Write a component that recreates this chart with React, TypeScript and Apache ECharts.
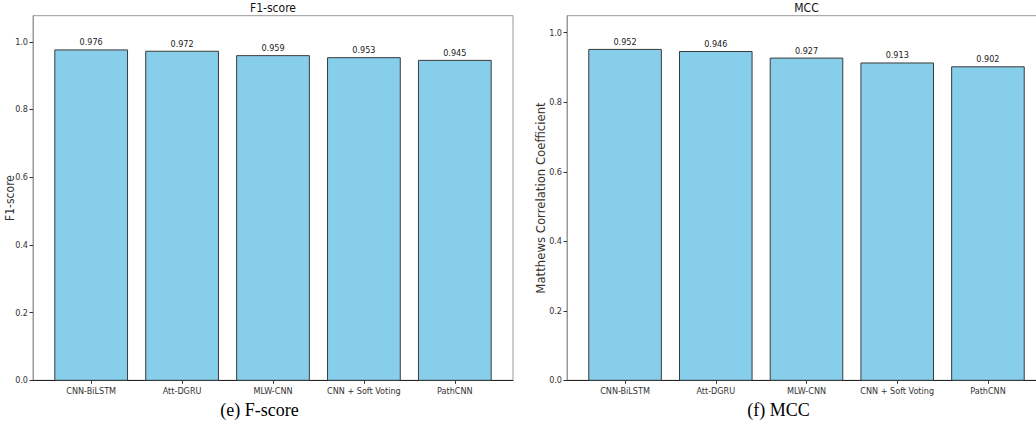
import React, { useEffect, useRef } from "react";
import * as echarts from "echarts";

const categories = ["CNN-BiLSTM", "Att-DGRU", "MLW-CNN", "CNN + Soft Voting", "PathCNN"];
const f1Values = [0.976, 0.972, 0.959, 0.953, 0.945];
const mccValues = [0.952, 0.946, 0.927, 0.913, 0.902];
const yTicks = [0, 0.2, 0.4, 0.6, 0.8, 1.0];
const xTicks = [0, 1, 2, 3, 4];

const SANS = "'DejaVu Sans Condensed', 'DejaVu Sans', sans-serif";
const SERIF = "'Liberation Serif', 'DejaVu Serif', serif";

function barSeries(values: number[], idx: number) {
  return {
    type: "custom",
    xAxisIndex: idx,
    yAxisIndex: idx,
    encode: { x: 0, y: 1 },
    data: values.map((v, i) => [i, v]),
    renderItem: (params: any, api: any) => {
      const i = api.value(0);
      const v = api.value(1);
      const top = api.coord([i, v]);
      const base = api.coord([i, 0]);
      const w = api.size([0.8, 0])[0];
      return {
        type: "group",
        children: [
          {
            type: "rect",
            shape: { x: top[0] - w / 2, y: top[1], width: w, height: base[1] - top[1] },
            style: { fill: "#87CEEB", stroke: "#3a3a3a", lineWidth: 1 },
          },
          {
            type: "text",
            style: {
              text: v.toFixed(3),
              x: top[0],
              y: top[1] - 3,
              align: "center",
              verticalAlign: "bottom",
              fill: "#222",
              font: `9px ${SANS}`,
            },
          },
        ],
      };
    },
  };
}

export default function App() {
  const ref = useRef<HTMLDivElement>(null);
  useEffect(() => {
    document.body.style.margin = "0";
    const chart = echarts.init(ref.current!, null, { renderer: "svg" });
    const gridTop = 15.7;
    const gridH = 364.6;
    const xAxisBase = (idx: number) => ({
      type: "value",
      gridIndex: idx,
      min: -0.64,
      max: 4.64,
      axisLine: { show: true, onZero: false, lineStyle: { color: "#222", width: 1 } },
      axisTick: { show: true, length: 3.5, lineStyle: { color: "#333" }, customValues: xTicks },
      axisLabel: {
        show: true,
        customValues: xTicks,
        formatter: (v: number) => categories[Math.round(v)] ?? "",
        color: "#333",
        fontFamily: SANS,
        fontSize: 9,
        margin: 6,
      },
      splitLine: { show: false },
    });
    const yAxisBase = (idx: number, max: number, name: string, gap: number, size: number) => ({
      type: "value",
      gridIndex: idx,
      min: 0,
      max,
      name,
      nameLocation: "middle",
      nameGap: gap,
      nameMoveOverlap: false,
      nameTextStyle: { color: "#333", fontFamily: SANS, fontSize: size },
      axisLine: { show: true, onZero: false, lineStyle: { color: "#999", width: 1 } },
      axisTick: { show: true, length: 3.5, lineStyle: { color: "#333" }, customValues: yTicks },
      axisLabel: {
        show: true,
        customValues: yTicks,
        formatter: (v: number) => v.toFixed(1),
        color: "#333",
        fontFamily: SANS,
        fontSize: 9,
        margin: 5,
      },
      splitLine: { show: false },
    });
    chart.setOption({
      animation: false,
      backgroundColor: "#fff",
      grid: [
        { left: 33, top: gridTop, width: 480, height: gridH, outerBoundsMode: "none", containLabel: false, show: true, borderColor: "#999", borderWidth: 1, backgroundColor: "transparent" },
        { left: 567, top: gridTop, width: 479, height: gridH, outerBoundsMode: "none", containLabel: false, show: true, borderColor: "#999", borderWidth: 1, backgroundColor: "transparent" },
      ],
      xAxis: [xAxisBase(0), xAxisBase(1)],
      yAxis: [
        yAxisBase(0, 1.077, "F1-score", 17, 12),
        yAxisBase(1, 1.049, "Matthews Correlation Coefficient", 20, 13),
      ],
      series: [barSeries(f1Values, 0), barSeries(mccValues, 1)],
      graphic: [
        { type: "text", x: 273, y: 8, style: { text: "F1-score", align: "center", verticalAlign: "middle", fill: "#111", font: `12px ${SANS}` } },
        { type: "text", x: 806.5, y: 8, style: { text: "MCC", align: "center", verticalAlign: "middle", fill: "#111", font: `12px ${SANS}` } },
        { type: "text", x: 259.5, y: 410, style: { text: "(e) F-score", align: "center", verticalAlign: "middle", fill: "#000", font: `18px ${SERIF}` } },
        { type: "text", x: 778.5, y: 410, style: { text: "(f) MCC", align: "center", verticalAlign: "middle", fill: "#000", font: `18px ${SERIF}` } },
      ],
    });
    return () => chart.dispose();
  }, []);
  return <div ref={ref} style={{ width: 1036, height: 424 }} />;
}
